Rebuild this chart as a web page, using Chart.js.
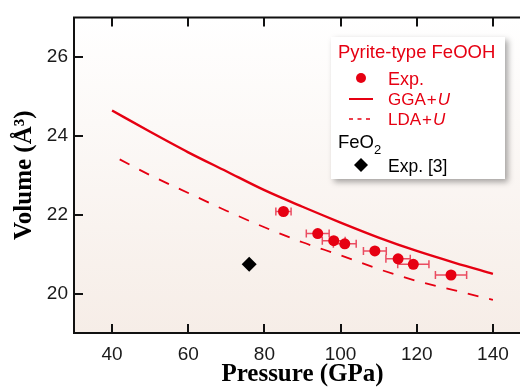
<!DOCTYPE html>
<html>
<head>
<meta charset="utf-8">
<script src="https://cdn.jsdelivr.net/npm/chart.js@4/dist/chart.umd.min.js"></script>
<style>
html, body { margin: 0; padding: 0; overflow: hidden; background: #fff; }
canvas { display: block; }
</style>
</head>
<body>
<canvas id="vol-chart" width="540" height="400"></canvas>
<script>
// GGA+U / LDA+U curves (pressure in GPa, volume in A^3)
var ggaP = [40, 50, 60, 70, 80, 90, 100, 110, 120, 130, 140];
var ggaV = [24.64, 24.1, 23.58, 23.1, 22.62, 22.2, 21.8, 21.42, 21.08, 20.78, 20.5];
var ldaP = [42, 50, 60, 70, 80, 90, 100, 110, 120, 130, 140];
var ldaV = [23.4, 23.0, 22.55, 22.1, 21.68, 21.3, 20.97, 20.62, 20.32, 20.08, 19.84];

// experiment, pyrite-type FeOOH
var expP = [85.0, 94.0, 98.2, 101.1, 109.0, 115.1, 119.1, 129.0];
var expV = [22.08, 21.52, 21.34, 21.26, 21.08, 20.88, 20.74, 20.47];
var expErr = [2, 3, 3, 3, 3, 3.2, 4.1, 4.1];

// FeO2, Exp. [3]
var feo2P = [76.0];
var feo2V = [20.74];

var xTicks = [40, 60, 80, 100, 120, 140];
var yTicks = [20, 22, 24, 26];

var RED = '#e60012';

function toXY(xs, ys) {
	return xs.map(function(x, i) { return { x: x, y: ys[i] }; });
}

var plotBg = {
	id: 'plotBg',
	beforeDraw: function(chart) {
		var a = chart.chartArea, ctx = chart.ctx;
		var g = ctx.createLinearGradient(0, a.top, 0, a.bottom);
		g.addColorStop(0, '#ffffff');
		g.addColorStop(1, '#f6ede7');
		ctx.save();
		ctx.fillStyle = g;
		ctx.fillRect(a.left, a.top, a.right - a.left, a.bottom - a.top);
		ctx.restore();
	}
};

var errorBars = {
	id: 'errorBars',
	beforeDatasetsDraw: function(chart) {
		var ctx = chart.ctx, xs = chart.scales.x, ys = chart.scales.y;
		ctx.save();
		ctx.strokeStyle = 'rgba(230,20,50,0.75)';
		ctx.lineWidth = 1.5;
		expP.forEach(function(p, i) {
			var x0 = xs.getPixelForValue(p - expErr[i]);
			var x1 = xs.getPixelForValue(p + expErr[i]);
			var y = ys.getPixelForValue(expV[i]);
			ctx.beginPath();
			ctx.moveTo(x0, y); ctx.lineTo(x1, y);
			ctx.moveTo(x0, y - 4); ctx.lineTo(x0, y + 4);
			ctx.moveTo(x1, y - 4); ctx.lineTo(x1, y + 4);
			ctx.stroke();
		});
		ctx.restore();
	}
};

var frameTicks = {
	id: 'frameTicks',
	afterDraw: function(chart) {
		var a = chart.chartArea, ctx = chart.ctx, xs = chart.scales.x, ys = chart.scales.y;
		var tl = 9;
		ctx.save();
		ctx.strokeStyle = '#111';
		ctx.lineWidth = 2;
		ctx.beginPath();
		ctx.rect(a.left, a.top, a.right - a.left, a.bottom - a.top);
		xTicks.forEach(function(v) {
			var x = Math.round(xs.getPixelForValue(v));
			ctx.moveTo(x, a.bottom); ctx.lineTo(x, a.bottom - tl);
			ctx.moveTo(x, a.top); ctx.lineTo(x, a.top + tl);
		});
		yTicks.forEach(function(v) {
			var y = Math.round(ys.getPixelForValue(v));
			ctx.moveTo(a.left, y); ctx.lineTo(a.left + tl, y);
			ctx.moveTo(a.right, y); ctx.lineTo(a.right - tl, y);
		});
		ctx.stroke();
		ctx.restore();
	}
};

var legendBox = {
	id: 'legendBox',
	afterDraw: function(chart) {
		var ctx = chart.ctx;
		var bx = 331, by = 37, bw = 174, bh = 142;
		ctx.save();
		ctx.shadowColor = 'rgba(0,0,0,0.35)';
		ctx.shadowBlur = 6;
		ctx.shadowOffsetX = 3;
		ctx.shadowOffsetY = 3;
		ctx.fillStyle = '#fff';
		ctx.fillRect(bx, by, bw, bh);
		ctx.restore();

		ctx.save();
		ctx.textBaseline = 'alphabetic';
		ctx.textAlign = 'left';
		var sans = '"Liberation Sans", Arial, sans-serif';

		ctx.fillStyle = RED;
		ctx.font = '18.5px ' + sans;
		ctx.fillText('Pyrite-type FeOOH', 338, 58);

		ctx.beginPath();
		ctx.arc(361, 78, 5, 0, Math.PI * 2);
		ctx.fill();
		ctx.font = '18px ' + sans;
		ctx.fillText('Exp.', 388, 85);

		ctx.strokeStyle = RED;
		ctx.lineWidth = 2;
		ctx.beginPath();
		ctx.moveTo(349, 99); ctx.lineTo(373, 99);
		ctx.stroke();
		ctx.setLineDash([4, 4.5]);
		ctx.lineWidth = 1.6;
		ctx.beginPath();
		ctx.moveTo(349, 119); ctx.lineTo(372, 119);
		ctx.stroke();
		ctx.setLineDash([]);

		function plusU(name, y) {
			ctx.font = '17px ' + sans;
			ctx.fillText(name, 388, y);
			var x = 388 + ctx.measureText(name).width + 1;
			ctx.fillText('+', x, y);
			x += ctx.measureText('+').width + 1;
			ctx.font = 'italic 17px ' + sans;
			ctx.fillText('U', x, y);
		}
		plusU('GGA', 105);
		plusU('LDA', 125);

		ctx.fillStyle = '#000';
		ctx.font = '18.5px ' + sans;
		ctx.fillText('FeO', 338, 148);
		var w = ctx.measureText('FeO').width;
		ctx.font = '13px ' + sans;
		ctx.fillText('2', 338 + w, 154);

		ctx.beginPath();
		ctx.moveTo(361, 158); ctx.lineTo(368, 165); ctx.lineTo(361, 172); ctx.lineTo(354, 165);
		ctx.closePath();
		ctx.fill();
		ctx.font = '17.5px ' + sans;
		ctx.fillText('Exp. [3]', 388, 172);
		ctx.restore();
	}
};

new Chart(document.getElementById('vol-chart'), {
	type: 'scatter',
	data: {
		datasets: [{
			type: 'line',
			label: 'GGA+U',
			data: toXY(ggaP, ggaV),
			borderColor: RED,
			borderWidth: 2.4,
			pointRadius: 0,
			cubicInterpolationMode: 'monotone',
			fill: false
		}, {
			type: 'line',
			label: 'LDA+U',
			data: toXY(ldaP, ldaV),
			borderColor: RED,
			borderWidth: 1.8,
			borderDash: [11, 11],
			pointRadius: 0,
			cubicInterpolationMode: 'monotone',
			fill: false
		}, {
			label: 'Exp.',
			data: toXY(expP, expV),
			backgroundColor: RED,
			borderColor: RED,
			pointRadius: 5.5,
			borderWidth: 0
		}, {
			label: 'Exp. [3]',
			data: toXY(feo2P, feo2V),
			pointStyle: 'rectRot',
			backgroundColor: '#000',
			borderColor: '#000',
			pointRadius: 7.5,
			borderWidth: 0
		}]
	},
	options: {
		responsive: false,
		animation: false,
		layout: { padding: { left: 0, right: 9, top: 13, bottom: 0 } },
		plugins: {
			legend: { display: false },
			tooltip: { enabled: false }
		},
		scales: {
			x: {
				type: 'linear',
				min: 30,
				max: 150,
				afterBuildTicks: function(s) { s.ticks = xTicks.map(function(v) { return { value: v }; }); },
				afterFit: function(s) { s.height = 67; },
				grid: { display: false, drawTicks: false },
				border: { display: false },
				ticks: {
					padding: 10,
					color: '#1a1a1a',
					font: { family: '"Liberation Sans", Arial, sans-serif', size: 19 }
				},
				title: {
					display: true,
					text: 'Pressure (GPa)',
					color: '#000',
					padding: { top: 0, bottom: 10 },
					font: { family: '"Liberation Serif", "Times New Roman", serif', size: 25, weight: 'bold' }
				}
			},
			y: {
				type: 'linear',
				min: 19,
				max: 27,
				afterBuildTicks: function(s) { s.ticks = yTicks.map(function(v) { return { value: v }; }); },
				afterFit: function(s) { s.width = 74; },
				grid: { display: false, drawTicks: false },
				border: { display: false },
				ticks: {
					padding: 6,
					color: '#1a1a1a',
					font: { family: '"Liberation Sans", Arial, sans-serif', size: 19 }
				},
				title: {
					display: true,
					text: 'Volume (Å³)',
					color: '#000',
					padding: { top: 10, bottom: 0 },
					font: { family: '"Liberation Serif", "Times New Roman", serif', size: 25, weight: 'bold' }
				}
			}
		}
	},
	plugins: [plotBg, errorBars, frameTicks, legendBox]
});
</script>
</body>
</html>
